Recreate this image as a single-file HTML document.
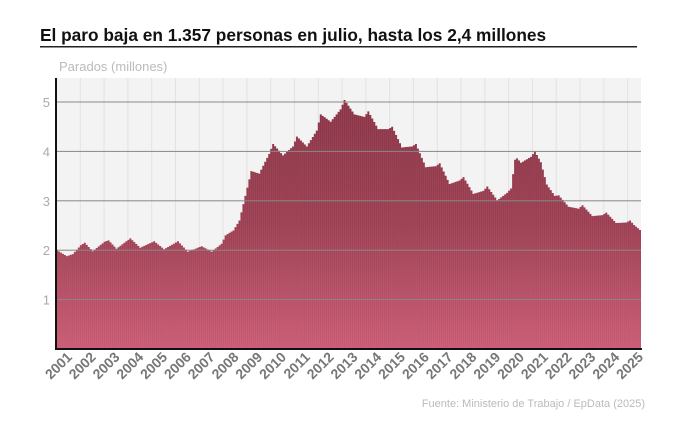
<!DOCTYPE html>
<html><head><meta charset="utf-8"><style>
body{margin:0;background:#fff;width:690px;height:426px;overflow:hidden;font-family:"Liberation Sans",sans-serif}
</style></head><body>
<svg id="s" width="690" height="426" xmlns="http://www.w3.org/2000/svg" font-family="Liberation Sans, sans-serif">
<defs>
<linearGradient id="g" gradientUnits="userSpaceOnUse" x1="0" y1="100" x2="0" y2="349">
<stop offset="0" stop-color="#8a3446"/><stop offset="0.5" stop-color="#9c3e52"/><stop offset="1" stop-color="#c95a74"/></linearGradient>
</defs>
<text x="40" y="41" font-size="17.3" font-weight="bold" fill="#111">El paro baja en 1.357 personas en julio, hasta los 2,4 millones</text>
<rect x="40" y="46" width="597" height="1.5" fill="#222"/>
<text x="59" y="71" font-size="13" fill="#bbb">Parados (millones)</text>
<rect x="56" y="78" width="585" height="271" fill="#f3f3f3"/>
<g id="vg"></g>
<g id="bars"></g>
<g id="hg"></g>
<rect x="55" y="78" width="2" height="272" fill="#111"/>
<rect x="55" y="348" width="587" height="2" fill="#111"/>
<g id="yl" font-size="13" fill="#aaa" text-anchor="end"></g>
<g id="xl" font-size="14" font-weight="bold" fill="#777"></g>
<text x="645" y="407" font-size="11" fill="#bbb" text-anchor="end">Fuente: Ministerio de Trabajo / EpData (2025)</text>
</svg>
<script>
var NS="http://www.w3.org/2000/svg";
function el(p,t,a,txt){var e=document.createElementNS(NS,t);for(var k in a)e.setAttribute(k,a[k]);if(txt)e.textContent=txt;document.getElementById(p).appendChild(e);}
var X0=56,W=585,N=295,bw=W/N,Y0=349,S=49.4;
function y(v){return Y0-v*S;}
var A=[[2001,1,2.0],[2001,3,1.95],[2001,6,1.88],[2001,9,1.92],[2002,1,2.1],[2002,3,2.15],[2002,7,1.98],[2003,1,2.17],[2003,3,2.2],[2003,7,2.03],[2004,2,2.24],[2004,7,2.05],[2005,2,2.18],[2005,7,2.02],[2006,2,2.18],[2006,7,1.97],[2007,2,2.08],[2007,7,1.97],[2007,12,2.13],[2008,2,2.3],[2008,6,2.4],[2008,9,2.6],[2008,12,3.1],[2009,3,3.6],[2009,7,3.55],[2009,12,3.95],[2010,2,4.15],[2010,7,3.92],[2010,12,4.1],[2011,2,4.3],[2011,7,4.1],[2011,12,4.42],[2012,2,4.75],[2012,7,4.6],[2012,12,4.85],[2013,2,5.04],[2013,7,4.75],[2013,12,4.7],[2014,2,4.81],[2014,7,4.45],[2014,12,4.45],[2015,2,4.5],[2015,7,4.08],[2015,12,4.1],[2016,2,4.15],[2016,7,3.68],[2016,12,3.7],[2017,2,3.76],[2017,7,3.34],[2017,12,3.41],[2018,2,3.48],[2018,7,3.14],[2018,12,3.2],[2019,2,3.29],[2019,7,3.01],[2019,12,3.16],[2020,2,3.25],[2020,4,3.83],[2020,5,3.86],[2020,7,3.77],[2020,12,3.89],[2021,2,4.0],[2021,5,3.78],[2021,8,3.33],[2021,12,3.1],[2022,2,3.11],[2022,7,2.88],[2022,12,2.84],[2023,2,2.91],[2023,7,2.69],[2023,12,2.71],[2024,2,2.76],[2024,7,2.55],[2024,12,2.56],[2025,2,2.6],[2025,4,2.51],[2025,7,2.41]];
var P=A.map(function(a){return [(a[0]-2001)*12+a[1]-1,a[2]];});
function val(m){for(var i=0;i<P.length-1;i++){if(m<=P[i+1][0]){var t=(m-P[i][0])/(P[i+1][0]-P[i][0]);return P[i][1]+t*(P[i+1][1]-P[i][1]);}}return P[P.length-1][1];}
for(var yr=2001;yr<=2025;yr++){var xx=X0+(yr-2001)*12*bw;el("vg","rect",{x:xx,y:78,width:1,height:271,fill:"#e2e2e2"});}
var d="M"+X0+" "+Y0;
for(var m=0;m<N;m++){var v=val(m);var x1=X0+m*bw;d+=" L"+x1.toFixed(2)+" "+y(v).toFixed(2)+" L"+(x1+bw).toFixed(2)+" "+y(v).toFixed(2);}
d+=" L"+(X0+W)+" "+Y0+"Z";
el("bars","path",{d:d,fill:"url(#g)"});
for(var m=1;m<N;m++){var x1=X0+m*bw;el("bars","rect",{x:x1-0.25,y:y(val(m)),width:0.5,height:Y0-y(val(m)),fill:"#fff","fill-opacity":"0.12"});}
for(var k=1;k<=5;k++){el("hg","rect",{x:56,y:y(k)-0.5,width:585,height:1,fill:"#888"});el("yl","text",{x:50,y:y(k)+5},""+k);}
for(var yr=2001;yr<=2025;yr++){var cx=X0+((yr-2001)*12+6)*bw;el("xl","text",{x:0,y:0,transform:"translate("+(cx+5)+",358) rotate(-45)","text-anchor":"end"},""+yr);}
</script>
</body></html>
